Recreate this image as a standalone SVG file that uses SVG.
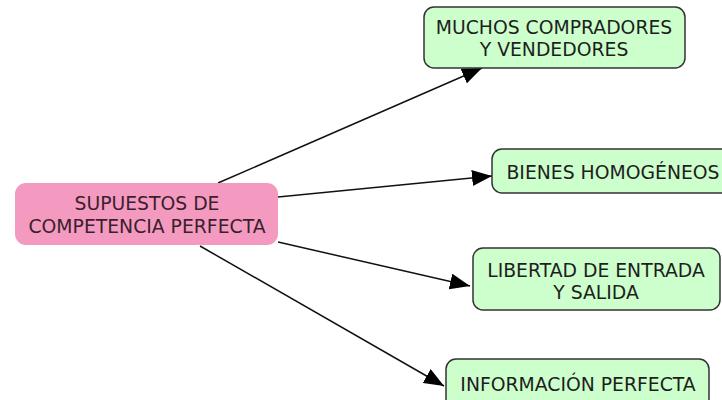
<svg xmlns="http://www.w3.org/2000/svg" width="722" height="400" viewBox="0 0 722 400">
<style>
.src{fill:#f49ac1;stroke:none}
.box{fill:#ccffcc;stroke:#333;stroke-width:1.5}
.t{font-family:"DejaVu Sans",Verdana,sans-serif;font-size:18.8px;fill:#1e1e1e;text-anchor:middle}
.st{fill:#3a1f2c}
.c{stroke:#111;stroke-width:1.5;fill:none;marker-end:url(#ah)}
</style>
<defs>
<marker id="ah" markerUnits="userSpaceOnUse" markerWidth="20" markerHeight="16" refX="20" refY="8" orient="auto">
<path d="M0,0 L20,8 L0,16 z" fill="#000"/>
</marker>
</defs>
<rect width="722" height="400" fill="#fff"/>
<g id="connectors">
<line class="c" x1="218" y1="183" x2="482" y2="68"/>
<line class="c" x1="278" y1="197" x2="492" y2="176"/>
<line class="c" x1="278" y1="242" x2="470" y2="286"/>
<line class="c" x1="200" y1="246" x2="444" y2="386"/>
</g>
<g id="n0">
<rect class="src" x="15" y="183" width="263" height="62" rx="11"/>
<text class="t st" x="147" y="210">SUPUESTOS DE</text>
<text class="t st" x="147" y="233">COMPETENCIA PERFECTA</text>
</g>
<g id="n1">
<rect class="box" x="424" y="7" width="261" height="61" rx="10"/>
<text class="t" x="554" y="34">MUCHOS COMPRADORES</text>
<text class="t" x="554" y="56">Y VENDEDORES</text>
</g>
<g id="n2">
<rect class="box" x="492" y="149" width="240" height="44" rx="10"/>
<text class="t" x="613" y="179">BIENES HOMOGÉNEOS</text>
</g>
<g id="n3">
<rect class="box" x="473" y="248" width="247" height="62" rx="10"/>
<text class="t" x="596" y="277">LIBERTAD DE ENTRADA</text>
<text class="t" x="596" y="299">Y SALIDA</text>
</g>
<g id="n4">
<rect class="box" x="446" y="359" width="263" height="50" rx="10"/>
<text class="t" x="578" y="391">INFORMACIÓN PERFECTA</text>
</g>
</svg>
